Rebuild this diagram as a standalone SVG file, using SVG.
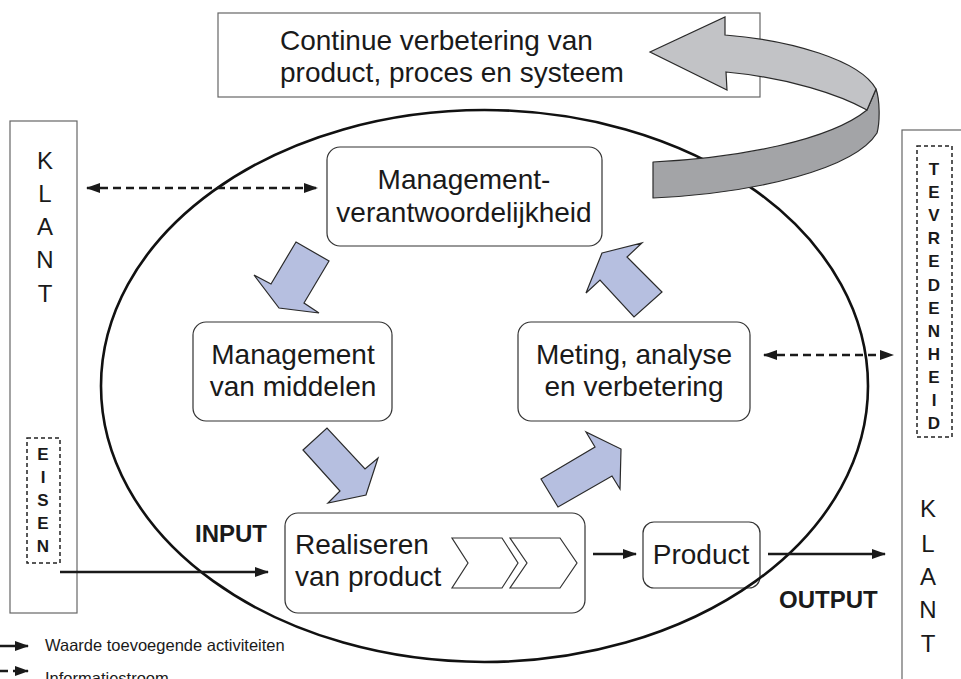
<svg xmlns="http://www.w3.org/2000/svg" width="961" height="679" viewBox="0 0 961 679">
<defs>
<marker id="ah" markerUnits="userSpaceOnUse" markerWidth="14" markerHeight="10" refX="13" refY="5" orient="auto-start-reverse">
<path d="M0,0 L14,5 L0,10 z" fill="#1a1a1a"/>
</marker>
<style>
.t{font-family:"Liberation Sans",Arial,sans-serif;fill:#1a1a1a}
.lbl{font-size:28px}
.big{font-size:28px}
.bold{font-weight:bold}
.col{font-size:24px;text-anchor:middle}
.colb{font-size:17px;font-weight:bold;text-anchor:middle}
.box{fill:#fff;stroke:#333;stroke-width:1.2}
.plain{fill:#fff;stroke:#666;stroke-width:1.2}
.dbox{fill:none;stroke:#222;stroke-width:1.5;stroke-dasharray:4 3}
.blue{fill:#b6bfe0;stroke:#2a2a2a;stroke-width:1.2;stroke-linejoin:miter}
.solid{stroke:#1a1a1a;stroke-width:2.5;fill:none}
.dash{stroke:#1a1a1a;stroke-width:2.5;fill:none;stroke-dasharray:8 5}
.chev{fill:#fff;stroke:#333;stroke-width:1.2}
</style>
</defs>
<rect width="961" height="679" fill="#fff"/>

<g id="klant-links">
<rect class="plain" x="10" y="121" width="67" height="492"/>
<text class="t col" x="45" y="169">K</text>
<text class="t col" x="45" y="202">L</text>
<text class="t col" x="45" y="235">A</text>
<text class="t col" x="45" y="268">N</text>
<text class="t col" x="45" y="302">T</text>
<rect class="dbox" x="27" y="438" width="33" height="125"/>
<text class="t colb" x="43" y="460">E</text>
<text class="t colb" x="43" y="483">I</text>
<text class="t colb" x="43" y="506">S</text>
<text class="t colb" x="43" y="529">E</text>
<text class="t colb" x="43" y="552">N</text>
</g>

<g id="klant-rechts">
<rect class="plain" x="902" y="130" width="80" height="570"/>
<rect class="dbox" x="917" y="146" width="35" height="291"/>
<text class="t colb" x="934" y="175">T</text>
<text class="t colb" x="934" y="198">E</text>
<text class="t colb" x="934" y="221">V</text>
<text class="t colb" x="934" y="244">R</text>
<text class="t colb" x="934" y="267">E</text>
<text class="t colb" x="934" y="291">D</text>
<text class="t colb" x="934" y="314">E</text>
<text class="t colb" x="934" y="337">N</text>
<text class="t colb" x="934" y="360">H</text>
<text class="t colb" x="934" y="383">E</text>
<text class="t colb" x="934" y="406">I</text>
<text class="t colb" x="934" y="429">D</text>
<text class="t col" x="928" y="517">K</text>
<text class="t col" x="928" y="552">L</text>
<text class="t col" x="928" y="585">A</text>
<text class="t col" x="928" y="618">N</text>
<text class="t col" x="928" y="652">T</text>
</g>

<g id="continue-verbetering">
<rect class="plain" x="218" y="13" width="542" height="84"/>
<text class="t big" x="280" y="50">Continue verbetering van</text>
<text class="t big" x="280" y="82">product, proces en systeem</text>
</g>

<g id="management-verantwoordelijkheid">
<rect class="box" x="327" y="147" width="275" height="99" rx="13"/>
<text class="t lbl" x="464" y="189" text-anchor="middle">Management-</text>
<text class="t lbl" x="464" y="222" text-anchor="middle">verantwoordelijkheid</text>
</g>

<g id="management-middelen">
<rect class="box" x="193" y="322" width="199" height="99" rx="13"/>
<text class="t lbl" x="293" y="364" text-anchor="middle">Management</text>
<text class="t lbl" x="293" y="396" text-anchor="middle">van middelen</text>
</g>

<g id="meting">
<rect class="box" x="518" y="322" width="232" height="99" rx="13"/>
<text class="t lbl" x="634" y="364" text-anchor="middle">Meting, analyse</text>
<text class="t lbl" x="634" y="396" text-anchor="middle">en verbetering</text>
</g>

<g id="realiseren">
<rect class="box" x="285" y="513" width="300" height="100" rx="13"/>
<text class="t lbl" x="295" y="554">Realiseren</text>
<text class="t lbl" x="295" y="586">van product</text>
<polygon class="chev" points="452,538 502,538 518,563 502,588 452,588 468,563"/>
<polygon class="chev" points="510,538 560,538 577,563 560,588 510,588 527,563"/>
</g>

<g id="product">
<rect class="box" x="643" y="522" width="117" height="66" rx="11"/>
<text class="t lbl" x="701" y="564" text-anchor="middle">Product</text>
</g>

<g id="labels">
<text class="t bold" x="195" y="542" font-size="24">INPUT</text>
<text class="t bold" x="779" y="608" font-size="24">OUTPUT</text>
</g>

<g id="kringloop">
<ellipse cx="484.5" cy="386" rx="383.5" ry="276" fill="none" stroke="#111" stroke-width="2.6"/>
</g>

<g id="connectors">
<line class="dash" x1="87" y1="188" x2="317" y2="188" marker-start="url(#ah)" marker-end="url(#ah)"/>
<line class="dash" x1="764" y1="355" x2="893" y2="355" marker-start="url(#ah)" marker-end="url(#ah)"/>
<line class="solid" x1="60" y1="572" x2="268" y2="572" marker-end="url(#ah)"/>
<line class="solid" x1="593" y1="554" x2="636" y2="554" marker-end="url(#ah)"/>
<line class="solid" x1="768" y1="554" x2="885" y2="554" marker-end="url(#ah)"/>
<polygon class="blue" points="296,242 329,261 304,303 319,313 279,308 254,275 271,284"/>
<polygon class="blue" points="303,450 327,428 365,469 378,458 366,495 328,503 340,491"/>
<polygon class="blue" points="541,479 595,447 586,432 621,449 620,489 612,476 558,507"/>
<polygon class="blue" points="602,253 642,243 627,257 662,292 634,317 600,280 586,293"/>
</g>

<g id="verbeterpijl">
<path d="M653,162 C740,158 830,140 867,110 L876,89 C880,100 880,122 877,133 C855,168 760,193 653,198 Z" fill="#a3a4a7" stroke="#2a2a2a" stroke-width="1.2" stroke-linejoin="round"/>
<path d="M725,35 C790,40 860,60 876,89 L867,110 C840,95 790,78 726,72 L727,90 L650,52 L725,17 Z" fill="#c2c3c6" stroke="#2a2a2a" stroke-width="1.2" stroke-linejoin="miter"/>
</g>

<g id="legenda">
<line class="solid" x1="0" y1="646" x2="28" y2="646" stroke-width="1.8" marker-end="url(#ah)"/>
<text class="t" x="45" y="651" font-size="16.5">Waarde toevoegende activiteiten</text>
<line class="dash" x1="0" y1="671" x2="28" y2="671" stroke-width="1.8" stroke-dasharray="5 3" marker-end="url(#ah)"/>
<text class="t" x="45" y="684" font-size="16.5">Informatiestroom</text>
</g>
</svg>
